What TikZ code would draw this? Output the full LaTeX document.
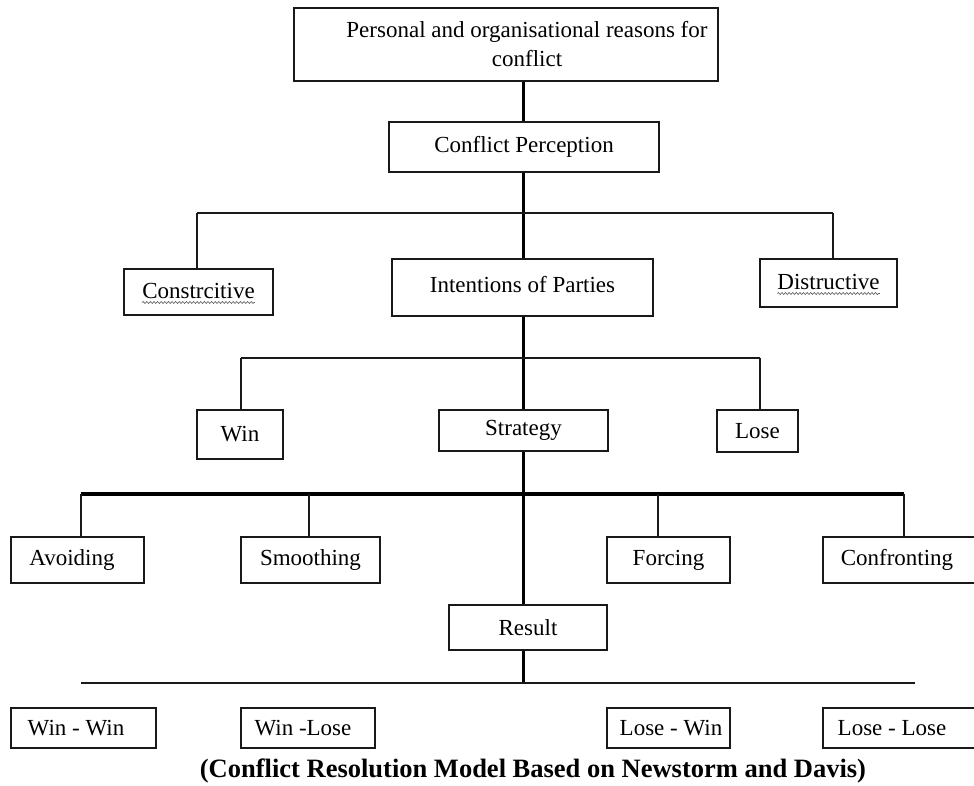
\documentclass[tikz,border=0pt]{standalone}
\usepackage{fontspec}
\setmainfont{Liberation Serif}
\usetikzlibrary{decorations.pathmorphing}
\newlength\wordoff
\newlength\wordlen
\newcommand\boxfont{\fontsize{23}{26}\selectfont}
\newcommand\ttlfont{\fontsize{26.5}{29}\selectfont\bfseries}
\begin{document}
\begin{tikzpicture}[x=1pt,y=-1pt,
  box/.style={draw=black!90, line width=1.5pt, fill=white, inner sep=0pt},
  txt/.style={inner sep=0pt, font=\boxfont},
  trunk/.style={draw=black, line width=3pt},
  branch/.style={draw=black!90, line width=1.8pt},
  bar/.style={draw=black, line width=4pt},
  ttl/.style={inner sep=0pt, font=\ttlfont},
  squig/.style={draw=black!65, line width=0.6pt, decorate, decoration={snake, amplitude=1pt, segment length=3.6pt}}]
\useasboundingbox (0,0) rectangle (974,786);

% boxes
\node[box, minimum width=424pt, minimum height=73pt] (top) at (506,44.5) {};
\node[txt, anchor=base] (l1) at (527,38) {Personal and organisational reasons for};
\node[txt, anchor=base] (l2) at (527,67) {conflict};
\node[box, minimum width=270pt, minimum height=50pt] (cp) at (524,147) {};
\node[txt] (cptext) at (524,147) {Conflict Perception};
\node[box, minimum width=149pt, minimum height=46pt] (con) at (198.5,292) {};
\node[txt] (context) at (198.5,291) {Constrcitive};
\node[box, minimum width=261pt, minimum height=57pt] (int) at (522.5,287.5) {};
\node[txt] (inttext) at (522.5,285) {Intentions of Parties};
\node[box, minimum width=137pt, minimum height=48pt] (dis) at (828.5,283) {};
\node[txt] (distext) at (828.5,282) {Distructive};
\node[box, minimum width=86pt, minimum height=49pt] (win) at (240,434.5) {};
\node[txt] (wintext) at (240,434.5) {Win};
\node[box, minimum width=169pt, minimum height=41pt] (str) at (523.5,430.5) {};
\node[txt] (strtext) at (523.5,430.5) {Strategy};
\node[box, minimum width=81pt, minimum height=42pt] (lose) at (757.5,431) {};
\node[txt] (losetext) at (757.5,431) {Lose};
\node[box, minimum width=133pt, minimum height=46pt] (avo) at (77.5,560) {};
\node[txt] (avotext) at (72,560) {Avoiding};
\node[box, minimum width=139pt, minimum height=46pt] (smo) at (310.5,560) {};
\node[txt] (smotext) at (310.5,560) {Smoothing};
\node[box, minimum width=123pt, minimum height=46pt] (forc) at (668.5,560) {};
\node[txt] (forctext) at (668.5,560) {Forcing};
\node[box, minimum width=157pt, minimum height=46pt] (conf) at (901.5,560) {};
\node[txt] (conftext) at (897,560) {Confronting};
\node[box, minimum width=158pt, minimum height=45pt] (res) at (528,627.5) {};
\node[txt] (restext) at (528,627.5) {Result};
\node[box, minimum width=145pt, minimum height=40pt] (ww) at (83.5,728) {};
\node[txt] (wwtext) at (76,728) {Win - Win};
\node[box, minimum width=134pt, minimum height=40pt] (wl) at (308,728) {};
\node[txt] (wltext) at (303,728) {Win -Lose};
\node[box, minimum width=123pt, minimum height=40pt] (lw) at (668.5,728) {};
\node[txt] (lwtext) at (671,728) {Lose - Win};
\node[box, minimum width=157pt, minimum height=40pt] (ll) at (901.5,728) {};
\node[txt] (lltext) at (892,728) {Lose - Lose};
\node[ttl, anchor=base] (title) at (533,777) {(Conflict Resolution Model Based on Newstorm and Davis)};

% spell-check squiggles
\draw[squig] ([yshift=-4pt]context.base west) -- ([yshift=-4pt]context.base east);
\draw[squig] ([yshift=-4pt]distext.base west) -- ([yshift=-4pt]distext.base east);
\settowidth{\wordoff}{\boxfont Personal and }
\settowidth{\wordlen}{\boxfont organisational}
\draw[squig] ([xshift=\wordoff, yshift=-4pt]l1.base west) -- ([xshift=\wordoff+\wordlen, yshift=-4pt]l1.base west);
\settowidth{\wordoff}{\ttlfont (Conflict Resolution Model Based on }
\settowidth{\wordlen}{\ttlfont Newstorm}
\draw[squig] ([xshift=\wordoff, yshift=-4pt]title.base west) -- ([xshift=\wordoff+\wordlen, yshift=-4pt]title.base west);

% junction coordinates
\coordinate (j1) at (523,213);
\coordinate (j1l) at (197,213);
\coordinate (j1r) at (833,213);
\coordinate (j2) at (523,358);
\coordinate (j2l) at (241,358);
\coordinate (j2r) at (760,358);
\coordinate (j3) at (523,494);
\coordinate (j3a) at (81,494);
\coordinate (j3b) at (309,494);
\coordinate (j3c) at (658,494);
\coordinate (j3d) at (904,494);
\coordinate (j4) at (523,683);
\coordinate (j4l) at (81,683);
\coordinate (j4r) at (915,683);

% connectors
\draw[trunk] (top.south -| j1) -- (cp.north -| j1);
\draw[trunk] (cp.south -| j1) -- (int.north -| j1);
\draw[branch, line width=2.4pt] (j1l) -- (j1r);
\draw[branch] (j1l) -- (j1l |- con.north);
\draw[branch] (j1r) -- (j1r |- dis.north);

\draw[trunk] (int.south -| j2) -- (str.north -| j2);
\draw[branch] (j2l) -- (j2r);
\draw[branch] (j2l) -- (j2l |- win.north);
\draw[branch] (j2r) -- (j2r |- lose.north);

\draw[trunk] (str.south -| j3) -- (res.north -| j3);
\draw[bar] (j3a) -- (j3d);
\draw[branch] (j3a) -- (j3a |- avo.north);
\draw[branch] (j3b) -- (j3b |- smo.north);
\draw[branch] (j3c) -- (j3c |- forc.north);
\draw[branch] (j3d) -- (j3d |- conf.north);

\draw[trunk] (res.south -| j4) -- (j4);
\draw[branch] (j4l) -- (j4r);
\end{tikzpicture}
\end{document}
